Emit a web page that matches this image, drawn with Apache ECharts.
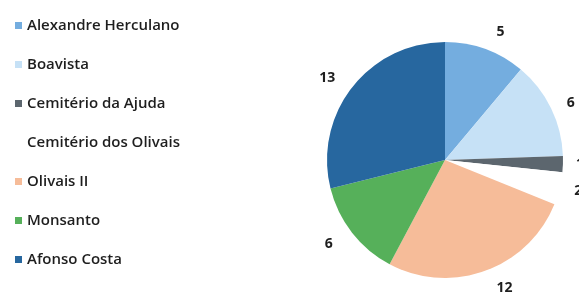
<!DOCTYPE html>
<html>
<head>
<meta charset="utf-8">
<script src="https://cdn.jsdelivr.net/npm/echarts@6/dist/echarts.min.js"></script>
<style>
  html, body { margin: 0; padding: 0; background: #fff; }
  #chart { width: 579px; height: 296px; }
</style>
</head>
<body>
<div id="chart"></div>
<script>
// categorias e valores
const categories = ['Alexandre Herculano', 'Boavista', 'Cemitério da Ajuda', 'Cemitério dos Olivais', 'Olivais II', 'Monsanto', 'Afonso Costa'];
const values = [5, 6, 1, 2, 12, 6, 13];
const colors = ['#74addf', '#c6e1f6', '#5c666e', '#ffffff', '#f6bc99', '#56b05a', '#27679f'];
// distância do rótulo à fatia (só estilo)
const labelGaps = [18, 12, 8, 10, 18, 18, 15];

const dom = document.getElementById('chart');
const myChart = echarts.init(dom);

const option = {
  animation: false,
  color: colors,
  legend: {
    orient: 'vertical',
    left: 15,
    top: 17,
    padding: 0,
    icon: 'rect',
    itemWidth: 7,
    itemHeight: 7,
    itemGap: 22,
    textStyle: {
      fontFamily: 'Open Sans',
      fontWeight: 600,
      fontSize: 15,
      lineHeight: 17,
      color: '#1e1e1e'
    },
    data: categories
  },
  series: [
    {
      type: 'pie',
      center: [445, 160],
      radius: 118,
      startAngle: 90,
      clockwise: true,
      avoidLabelOverlap: false,
      label: {
        show: true,
        position: 'outside',
        formatter: '{c}',
        fontFamily: 'Open Sans',
        fontWeight: 700,
        fontSize: 14,
        color: '#1e1e1e'
      },
      labelLine: { show: false, length: 12, length2: 0 },
      data: categories.map((name, i) => ({
        name: name,
        value: values[i],
        labelLine: { show: false, length: labelGaps[i], length2: 0 }
      }))
    }
  ]
};

myChart.setOption(option, true);
</script>
</body>
</html>
